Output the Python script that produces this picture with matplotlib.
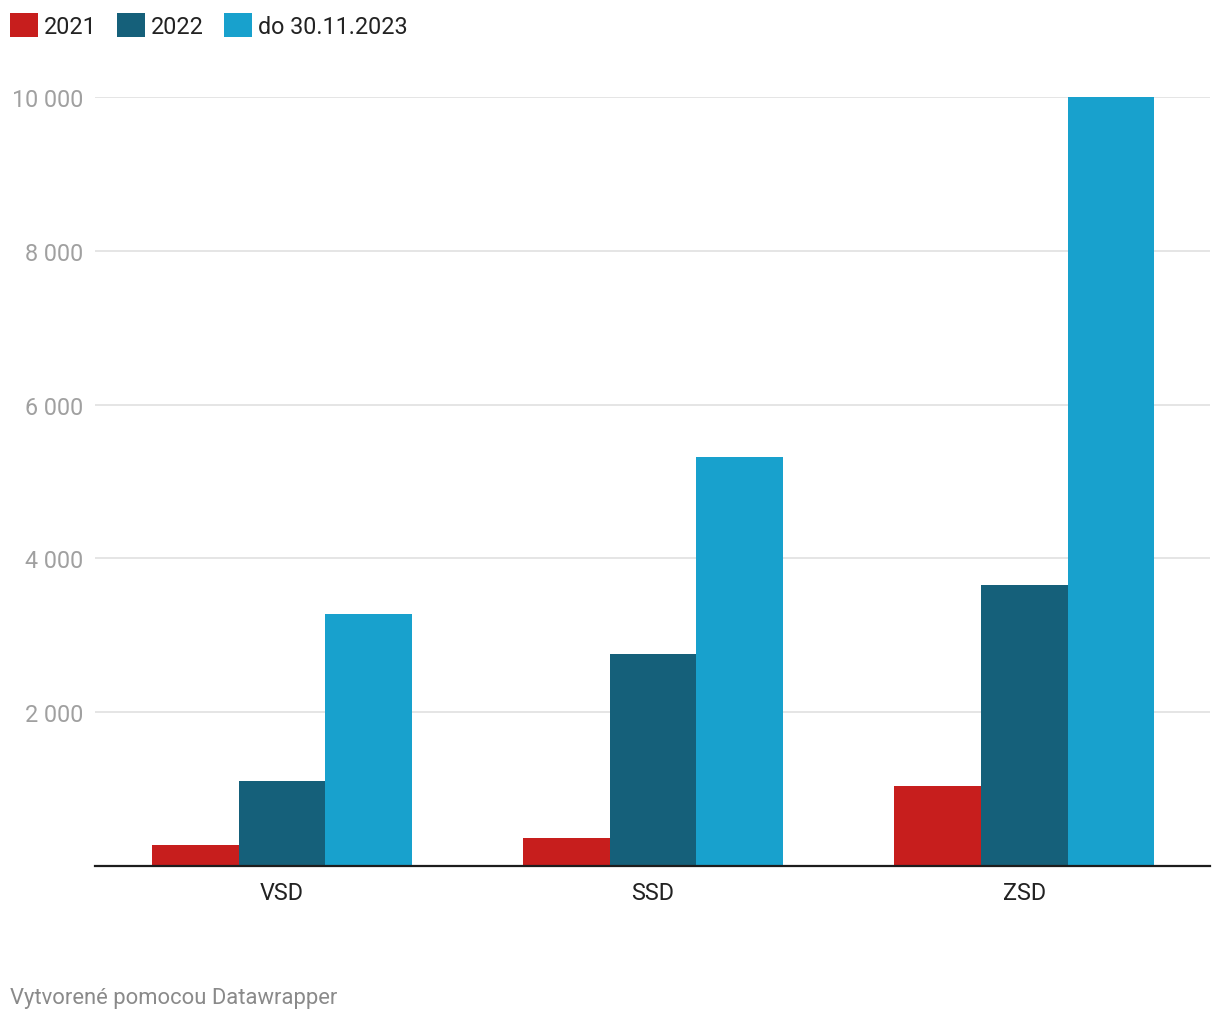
import numpy as np
import matplotlib.pyplot as plt
from matplotlib.ticker import FuncFormatter

plt.rcParams['font.family'] = ['Roboto', 'DejaVu Sans']

# data
categories = ['VSD', 'SSD', 'ZSD']
series_labels = ['2021', '2022', 'do 30.11.2023']
values_2021 = [267, 365, 1034]
values_2022 = [1099, 2760, 3648]
values_2023 = [3283, 5325, 10000]
y_ticks = [2000, 4000, 6000, 8000, 10000]

colors = ['#c71e1d', '#15607a', '#18a1cd']

fig = plt.figure(figsize=(12.2, 10.2), dpi=100)
ax = fig.add_axes([95 / 1220, 1 - 867 / 1020, 1115 / 1220, 769 / 1020])

x = np.arange(len(categories))
width = 0.234
for i, (vals, col, lab) in enumerate(zip([values_2021, values_2022, values_2023],
                                         colors, series_labels)):
    ax.bar(x + (i - 1) * width, vals, width=width, color=col, label=lab,
           zorder=3, linewidth=0)

ax.set_xlim(-0.504, 2.501)
ax.set_ylim(0, 10000)

ax.set_yticks(y_ticks)
ax.yaxis.set_major_formatter(FuncFormatter(lambda v, p: f"{v:,.0f}".replace(',', ' ')))
ax.tick_params(axis='y', length=0, pad=8.5, labelsize=16.8, labelcolor='#a0a0a0')
ax.set_xticks(x)
ax.set_xticklabels(categories)
ax.tick_params(axis='x', length=0, pad=11, labelsize=16.8, labelcolor='#222222')

ax.grid(axis='y', color='#e3e3e3', linewidth=1.3, zorder=0)
ax.set_axisbelow(True)
for side in ['top', 'right', 'left']:
    ax.spines[side].set_visible(False)
ax.spines['bottom'].set_color('#1d1d1d')
ax.spines['bottom'].set_linewidth(1.6)
ax.spines['bottom'].set_zorder(4)

# legend at the top left
handles, labels = ax.get_legend_handles_labels()
fig.legend(handles, labels, loc='upper left', bbox_to_anchor=(10 / 1220, 1 - 14 / 1020),
           ncol=3, frameon=False, fontsize=16.8, handlelength=1.2, handleheight=1.2,
           handletextpad=0.25, columnspacing=0.88, borderpad=0, borderaxespad=0,
           labelcolor='#222222')

fig.text(10 / 1220, 1 - 999 / 1020, 'Vytvorené pomocou Datawrapper', fontsize=15.8,
         color='#8a8a8a', ha='left', va='center')

fig.savefig('out.png', dpi=100)
